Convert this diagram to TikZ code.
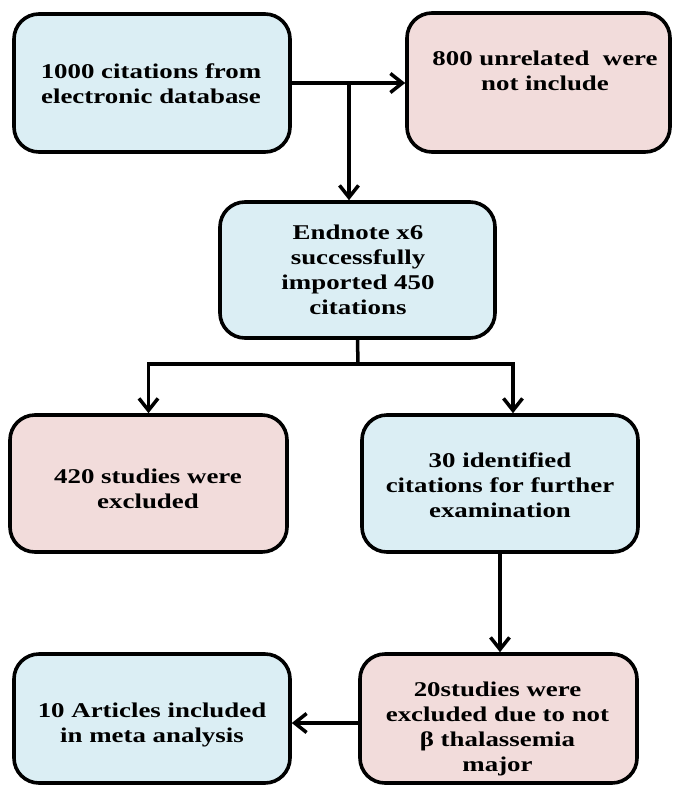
\documentclass[tikz,border=0pt]{standalone}
\usepackage{fontspec}
\setmainfont[FakeStretch=1.28]{Liberation Serif}
\usetikzlibrary{arrows.meta}
\definecolor{boxblue}{HTML}{DBEEF4}
\definecolor{boxpink}{HTML}{F2DCDB}
\tikzset{
  box/.style={draw=black, line width=3.6pt, rounded corners=25pt, inner sep=0pt},
  bluebox/.style={box, fill=boxblue},
  pinkbox/.style={box, fill=boxpink},
  txt/.style={align=center, inner sep=0pt, font=\fontsize{21}{25}\selectfont\bfseries},
  conn/.style={line width=3.5pt},
  arr/.style={conn, -{Straight Barb[length=12pt,width=19pt]}}
}
\begin{document}
\begin{tikzpicture}[x=1pt,y=-1pt]
\useasboundingbox (0,0) rectangle (673,785);
\fill[white] (0,0) rectangle (673,785);
% boxes
\node[bluebox, minimum width=276pt, minimum height=138pt] (b1) at (152,83) {};
\node[pinkbox, minimum width=263pt, minimum height=139pt] (b2) at (538.5,82.5) {};
\node[bluebox, minimum width=275pt, minimum height=136pt] (b3) at (357.5,270) {};
\node[pinkbox, minimum width=277pt, minimum height=137pt] (b4) at (148.5,483.5) {};
\node[bluebox, minimum width=276pt, minimum height=137pt] (b5) at (500,483.5) {};
\node[pinkbox, minimum width=277pt, minimum height=129pt] (b6) at (498.5,718.5) {};
\node[bluebox, minimum width=276pt, minimum height=129pt] (b7) at (152,718.5) {};
% texts
\node[txt] (t1) at (151,84) {1000 citations from\\electronic database};
\node[txt] (t2) at (545,71) {800 unrelated\ \ were\\not include};
\node[txt] (t3) at (358,270) {Endnote x6\\successfully\\imported 450\\citations};
\node[txt] (t4) at (148,489) {420 studies were\\excluded};
\node[txt] (t5) at (500,485) {30 identified\\citations for further\\examination};
\node[txt] (t6) at (497.5,728.5) {20studies were\\excluded due to not\\β thalassemia\\major};
\node[txt] (t7) at (152,724.5) {10 Articles included\\in meta analysis};
% junctions
\coordinate (j1) at (349,83);
\coordinate (j2) at (358,364);
\coordinate (j4) at (513,364);
\coordinate (j3) at (360,723);
% connectors
\draw[arr] (b1.east) -- (b1.east -| b2.west);
\draw[arr] (j1) -- (j1 |- b3.north);
\draw[conn] (b3.south) -- (j2);
\draw[arr] (j2) -| (b4.north);
\draw[arr] (j2) -- (j4) -- (j4 |- b5.north);
\draw[arr] (b5.south) -- (b5.south |- b6.north);
\draw[arr] (b6.west |- j3) -- (b7.east |- j3);
\end{tikzpicture}
\end{document}
